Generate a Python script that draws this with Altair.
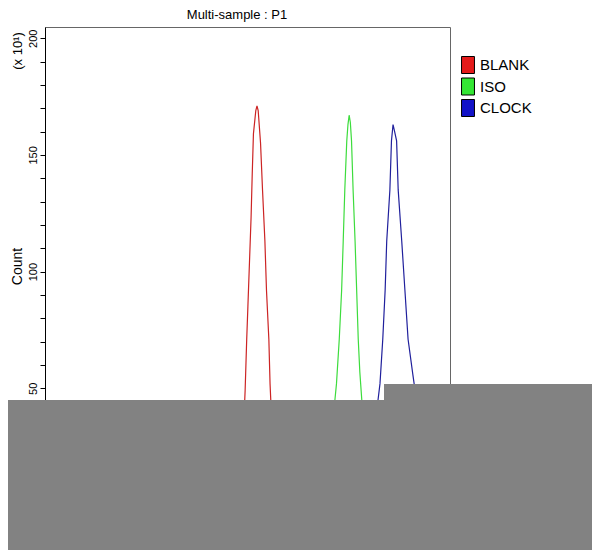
import altair as alt
import pandas as pd

series = ["BLANK", "ISO", "CLOCK"]

blank_x = [470, 485, 495, 500, 506, 510, 513, 517, 521, 524, 527, 533, 536, 539, 545, 550, 556, 560, 566, 569, 574, 580, 590, 605]
blank_y = [0, 3, 12, 25, 49, 71, 85, 104, 123, 142, 159, 169, 171, 169, 155, 135, 113, 92, 71, 52, 33, 15, 5, 0]

iso_x = [700, 715, 725, 733, 737, 744, 750, 754, 758, 763, 766, 769, 772, 775, 779, 784, 788, 792, 796, 801, 806, 815, 830]
iso_y = [0, 4, 18, 45, 52, 71, 92, 113, 135, 156, 163, 167, 164, 156, 135, 113, 92, 71, 57, 45, 30, 10, 0]

clock_x = [800, 815, 830, 842, 847, 854, 860, 864, 872, 876, 880, 884, 889, 893, 902, 910, 918, 930, 935, 945, 960, 975]
clock_y = [0, 4, 15, 45, 52, 71, 92, 113, 135, 156, 163, 160, 156, 135, 113, 92, 71, 56, 50, 30, 10, 0]

y_ticks = list(range(0, 201, 10))

rows = []
for name, xs, ys in [("BLANK", blank_x, blank_y), ("ISO", iso_x, iso_y), ("CLOCK", clock_x, clock_y)]:
    for i, (xv, yv) in enumerate(zip(xs, ys)):
        rows.append({"series": name, "channel": xv, "count": yv, "order": i})
df = pd.DataFrame(rows)
legend_df = pd.DataFrame({"sample": series})

line_colors = ["#cc2424", "#3ddc3d", "#20209c"]
swatch_colors = ["#e41b1b", "#33e633", "#1212c8"]

FONT = "Liberation Sans"

x_enc = alt.X("channel:Q", scale=alt.Scale(domain=[0, 1024], nice=False), axis=None)
y_enc = alt.Y(
    "count:Q",
    scale=alt.Scale(domain=[0, 204.8], nice=False),
    axis=alt.Axis(
        values=y_ticks,
        labelExpr="datum.value % 50 == 0 ? datum.label : ''",
        grid=False,
        domainColor="black",
        tickColor="black",
        tickSize=5,
        labelAngle=270,
        labelAlign="center",
        labelBaseline="bottom",
        labelPadding=2,
        labelFontSize=11,
        labelFont=FONT,
        labelColor="black",
        title="Count",
        titleFont=FONT,
        titleFontSize=14,
        titleFontWeight="normal",
        titleColor="black",
        titleAngle=270,
        titleAlign="center",
        titleBaseline="middle",
        titleX=-28,
        titleY=239,
    ),
)

lines = alt.Chart(df).mark_line(strokeWidth=1.2).encode(
    x=x_enc,
    y=y_enc,
    stroke=alt.Stroke("series:N", scale=alt.Scale(domain=series, range=line_colors), legend=None),
    detail="series:N",
    order="order:Q",
)

# legend drawn as a small keyed layer (own point scale for rows)
leg_y = alt.Y("sample:N", sort=series, scale=alt.Scale(domain=series, range=[38, 81], padding=0), axis=None)
leg_swatch = alt.Chart(legend_df).mark_point(
    shape="M-0.76,-1H0.76V1H-0.76Z", filled=True, size=289, stroke="black", strokeWidth=1,
    strokeJoin="miter", opacity=1
).encode(
    x=alt.value(423),
    y=leg_y,
    fill=alt.Fill("sample:N", scale=alt.Scale(domain=series, range=swatch_colors), legend=None),
)
leg_text = alt.Chart(legend_df).mark_text(
    font=FONT, fontSize=15, color="black", align="left", baseline="middle"
).encode(
    x=alt.value(435),
    y=leg_y,
    text="sample:N",
)

one = pd.DataFrame({"k": [0]})

title_txt = alt.Chart(one).mark_text(font=FONT, fontSize=13, color="black", align="center", baseline="middle").encode(
    x=alt.value(192), y=alt.value(-12), text=alt.value("Multi-sample : P1")
)
scale_txt = alt.Chart(one).mark_text(font=FONT, fontSize=13, color="black", align="center", baseline="middle", angle=270).encode(
    x=alt.value(-27), y=alt.value(24), text=alt.value("(x 10¹)")
)

gray1 = alt.Chart(one).mark_rect(color="#828282").encode(
    x=alt.value(-37), x2=alt.value(547), y=alt.value(373), y2=alt.value(523)
)
gray2 = alt.Chart(one).mark_rect(color="#828282").encode(
    x=alt.value(339), x2=alt.value(547), y=alt.value(357), y2=alt.value(523)
)

chart = alt.layer(lines, leg_swatch, leg_text, title_txt, scale_txt, gray1, gray2).resolve_scale(
    y="independent"
).properties(
    width=405,
    height=478,
    autosize=alt.AutoSizeParams(type="none"),
    padding={"left": 37, "top": 19, "right": 142, "bottom": 45},
    background="white",
).configure_view(stroke="#666666", strokeWidth=1)

chart.save("out.html", embed_options={"renderer": "svg", "actions": False})
